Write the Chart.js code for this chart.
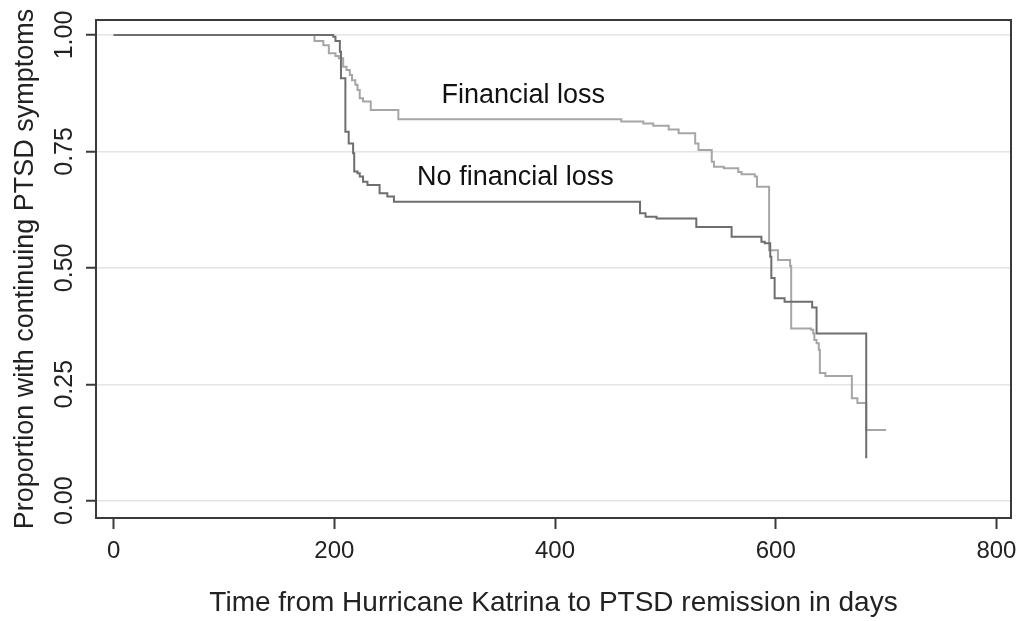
<!DOCTYPE html>
<html>
<head>
<meta charset="utf-8">
<script src="https://cdn.jsdelivr.net/npm/chart.js@4/dist/chart.umd.min.js"></script>
<style>
  html, body { margin: 0; padding: 0; background: #fff; }
  #wrap { width: 1016px; height: 621px; position: relative; }
</style>
</head>
<body>
<div id="wrap"><canvas id="myChart"></canvas></div>
<script>
// Kaplan-Meier curves (days, proportion still symptomatic)
var lossDays = [0, 182, 190, 195, 201, 204, 208, 211, 214, 216, 219, 221, 223, 226, 233, 258, 460, 480, 489, 503,
  512, 527, 530, 542, 544, 553, 566, 569, 581, 583, 594, 602, 613, 614, 632, 634, 635, 637, 639, 640,
  645, 669, 674, 682, 700];
var lossSurv = [1.000, 0.987, 0.978, 0.961, 0.955, 0.950, 0.932, 0.925, 0.914, 0.903, 0.893, 0.882, 0.864, 0.857, 0.839, 0.819, 0.814, 0.810, 0.805, 0.797,
  0.789, 0.767, 0.753, 0.728, 0.717, 0.714, 0.706, 0.701, 0.696, 0.674, 0.538, 0.517, 0.504, 0.370, 0.367, 0.359, 0.345, 0.338, 0.324, 0.274,
  0.268, 0.220, 0.210, 0.152, 0.152];

var noLossDays = [0, 199, 201, 205, 206, 210, 213, 217, 218, 221, 223, 226, 230, 241, 248, 254, 477, 482, 492, 528,
  560, 587, 590, 595, 596, 599, 608, 633, 637, 682];
var noLossSurv = [1.000, 0.996, 0.987, 0.964, 0.907, 0.792, 0.767, 0.746, 0.707, 0.703, 0.696, 0.685, 0.678, 0.660, 0.653, 0.642, 0.617, 0.610, 0.606, 0.588,
  0.567, 0.556, 0.553, 0.524, 0.478, 0.435, 0.427, 0.415, 0.359, 0.091];

// tick labels
var xTicks = [0, 200, 400, 600, 800];
var yTicks = [0, 0.25, 0.5, 0.75, 1];
var yTickLabels = ['0.00', '0.25', '0.50', '0.75', '1.00'];

// curve labels
var curveNames = ['Financial loss', 'No financial loss'];

var FONT = "'Liberation Sans', Arial, sans-serif";

function toPoints(days, surv) {
  return days.map(function(d, i) { return { x: d, y: surv[i] }; });
}

// frame, rotated y tick labels and in-plot labels
var extras = {
  id: 'extras',
  afterDraw: function(chart) {
    var ctx = chart.ctx;
    var area = chart.chartArea;
    var xs = chart.scales.x;
    var ys = chart.scales.y;

    ctx.save();
    ctx.strokeStyle = '#3a3a3a';
    ctx.lineWidth = 2;
    ctx.strokeRect(area.left, area.top, area.right - area.left, area.bottom - area.top);

    // y tick labels, vertical like the original
    ctx.fillStyle = '#222';
    ctx.font = '25px ' + FONT;
    ctx.textAlign = 'center';
    ctx.textBaseline = 'alphabetic';
    yTicks.forEach(function(v, i) {
      ctx.save();
      ctx.translate(72, ys.getPixelForValue(v));
      ctx.rotate(-Math.PI / 2);
      ctx.fillText(yTickLabels[i], 0, 0);
      ctx.restore();
    });

    // curve names
    ctx.fillStyle = '#111';
    ctx.font = '27px ' + FONT;
    ctx.textAlign = 'left';
    ctx.fillText(curveNames[0], xs.getPixelForValue(297), ys.getPixelForValue(0.854));
    ctx.fillText(curveNames[1], xs.getPixelForValue(275), ys.getPixelForValue(0.678));
    ctx.restore();
  }
};

var ctx = document.getElementById('myChart').getContext('2d');
var myChart = new Chart(ctx, {
  type: 'line',
  data: {
    datasets: [
      {
        label: curveNames[1],
        data: toPoints(noLossDays, noLossSurv),
        borderColor: '#6e6e6e',
        borderWidth: 2,
        stepped: true,
        pointRadius: 0,
        fill: false
      },
      {
        label: curveNames[0],
        data: toPoints(lossDays, lossSurv),
        borderColor: '#a6a6a6',
        borderWidth: 2,
        stepped: true,
        pointRadius: 0,
        fill: false
      }
    ]
  },
  options: {
    responsive: true,
    maintainAspectRatio: false,
    animation: false,
    layout: { padding: { left: 0, top: 20, right: 5, bottom: 0 } },
    plugins: {
      legend: { display: false },
      tooltip: { enabled: false }
    },
    scales: {
      x: {
        type: 'linear',
        min: -16,
        max: 813.2,
        afterBuildTicks: function(scale) {
          scale.ticks = xTicks.map(function(v) { return { value: v }; });
        },
        afterFit: function(scale) {
          scale.height = 103;
          scale.paddingLeft = 0;
          scale.paddingRight = 0;
        },
        border: { display: false },
        grid: {
          drawOnChartArea: false,
          drawTicks: true,
          tickLength: 11,
          tickColor: '#3a3a3a',
          tickWidth: 2
        },
        ticks: {
          color: '#222',
          padding: 8,
          maxRotation: 0,
          font: { family: FONT, size: 24 }
        },
        title: {
          display: true,
          text: 'Time from Hurricane Katrina to PTSD remission in days',
          color: '#222',
          font: { family: FONT, size: 28, lineHeight: 1.2 },
          padding: { top: 0, bottom: 1 }
        }
      },
      y: {
        min: -0.0371,
        max: 1.0322,
        afterBuildTicks: function(scale) {
          scale.ticks = yTicks.map(function(v) { return { value: v }; });
        },
        afterFit: function(scale) {
          scale.width = 96;
          scale.paddingTop = 0;
          scale.paddingBottom = 0;
        },
        border: { display: false },
        grid: {
          color: '#e4e4e4',
          lineWidth: 1.5,
          drawTicks: true,
          tickLength: 10,
          tickColor: '#3a3a3a',
          tickWidth: 2
        },
        ticks: { display: false },
        title: {
          display: true,
          text: 'Proportion with continuing PTSD symptoms',
          color: '#222',
          font: { family: FONT, size: 27, lineHeight: 1.2 },
          padding: { top: 9, bottom: 0 }
        }
      }
    }
  },
  plugins: [extras]
});
</script>
</body>
</html>
